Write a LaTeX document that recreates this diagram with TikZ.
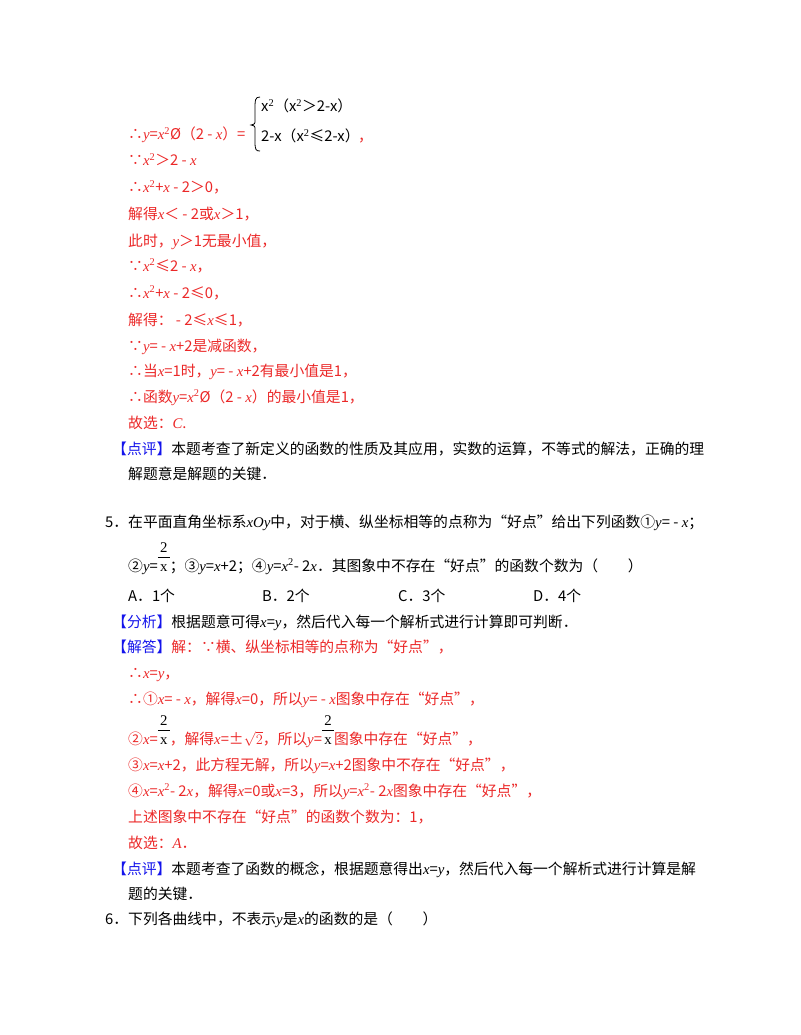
\documentclass[tikz,border=0pt]{standalone}
\usepackage{fontspec}
\setmainfont{Noto Sans CJK SC}
\newfontfamily\lat{Liberation Serif}
\newcommand\vv[1]{{\lat\itshape #1}}
\newcommand\sq{\textsuperscript{\lat 2}}
\newcommand\fr{\makebox[12pt]{\rlap{\raisebox{19pt}{\makebox[12pt]{\lat 2}}}\rlap{\raisebox{13pt}{\rule{12pt}{0.8pt}}}\makebox[12pt]{\lat x}}}
\definecolor{rd}{RGB}{235,40,40}
\definecolor{bl}{RGB}{20,20,235}
\tikzset{t/.style={anchor=base west,inner sep=0pt,font=\fontsize{14.8}{17}\selectfont},
 r/.style={t,text=rd}, k/.style={t,text=black}}
\begin{document}
\begin{tikzpicture}[x=1pt,y=-1pt]
\useasboundingbox (0,0) rectangle (800,1035);
\node[r] (a1) at (128,140) {∴\vv{y}=\vv{x}\sq Ø（2 - \vv{x}）=};
\draw[thick] (260,97) .. controls (255,97) and (255,100) .. (255,110) -- (255,120) .. controls (255,124) .. (251,125) .. controls (255,126) .. (255,130) -- (255,142) .. controls (255,150) and (256,151) .. (260,151);
\node[k] (p1) at (261,112) {x\sq（x\sq ＞2-x）};
\node[k] (p2) at (261,142) {2-x（x\sq ≤2-x）};
\node[r] (a1b) at (358,142) {，};
\node[r] (a2) at (128,166) {∵\vv{x}\sq ＞2 - \vv{x}};
\node[r] (a3) at (128,193) {∴\vv{x}\sq +\vv{x} - 2＞0，};
\node[r] (a4) at (128,219) {解得\vv{x}＜ - 2或\vv{x}＞1，};
\node[r] (a5) at (128,246) {此时，\vv{y}＞1无最小值，};
\node[r] (a6) at (128,271) {∵\vv{x}\sq ≤2 - \vv{x}，};
\node[r] (a7) at (128,298) {∴\vv{x}\sq +\vv{x} - 2≤0，};
\node[r] (a8) at (128,325) {解得： - 2≤\vv{x}≤1，};
\node[r] (a9) at (128,351) {∵\vv{y}= - \vv{x}+2是减函数，};
\node[r] (a10) at (128,376) {∴当\vv{x}=1时，\vv{y}= - \vv{x}+2有最小值是1，};
\node[r] (a11) at (128,402) {∴函数\vv{y}=\vv{x}\sq Ø（2 - \vv{x}）的最小值是1，};
\node[r] (a12) at (128,428) {故选：\vv{C}.};
\node[k] (a13) at (112,454) {\textcolor{bl}{【点评】}本题考查了新定义的函数的性质及其应用，实数的运算，不等式的解法，正确的理};
\node[k] (a14) at (128,479) {解题意是解题的关键．};
\node[k] (q1) at (105,527) {5．在平面直角坐标系\vv{xOy}中，对于横、纵坐标相等的点称为“好点”给出下列函数①\vv{y}= - \vv{x}；};
\node[k] (q2) at (128,571) {②\vv{y}=\fr；③\vv{y}=\vv{x}+2；④\vv{y}=\vv{x}\sq - 2\vv{x}．其图象中不存在“好点”的函数个数为（　　）};
\node[k] (oA) at (128,601) {A．1个};
\node[k] (oB) at (262,601) {B．2个};
\node[k] (oC) at (398,601) {C．3个};
\node[k] (oD) at (533,601) {D．4个};
\node[k] (f1) at (112,627) {\textcolor{bl}{【分析】}根据题意可得\vv{x}=\vv{y}，然后代入每一个解析式进行计算即可判断．};
\node[r] (s1) at (112,652) {\textcolor{bl}{【解答】}解：∵横、纵坐标相等的点称为“好点”，};
\node[r] (s2) at (128,678) {∴\vv{x}=\vv{y}，};
\node[r] (s3) at (128,704) {∴①\vv{x}= - \vv{x}，解得\vv{x}=0，所以\vv{y}= - \vv{x}图象中存在“好点”，};
\node[r] (s4) at (128,744) {②\vv{x}=\textcolor{black}{\fr}，解得\vv{x}=±$\sqrt{2}$，所以\vv{y}=\textcolor{black}{\fr}图象中存在“好点”，};
\node[r] (s5) at (128,770) {③\vv{x}=\vv{x}+2，此方程无解，所以\vv{y}=\vv{x}+2图象中不存在“好点”，};
\node[r] (s6) at (128,796) {④\vv{x}=\vv{x}\sq - 2\vv{x}，解得\vv{x}=0或\vv{x}=3，所以\vv{y}=\vv{x}\sq - 2\vv{x}图象中存在“好点”，};
\node[r] (s7) at (128,822) {上述图象中不存在“好点”的函数个数为：1，};
\node[r] (s8) at (128,848) {故选：\vv{A}．};
\node[k] (d1) at (112,874) {\textcolor{bl}{【点评】}本题考查了函数的概念，根据题意得出\vv{x}=\vv{y}，然后代入每一个解析式进行计算是解};
\node[k] (d2) at (128,899) {题的关键．};
\node[k] (q6) at (105,924) {6．下列各曲线中，不表示\vv{y}是\vv{x}的函数的是（　　）};
\end{tikzpicture}
\end{document}
